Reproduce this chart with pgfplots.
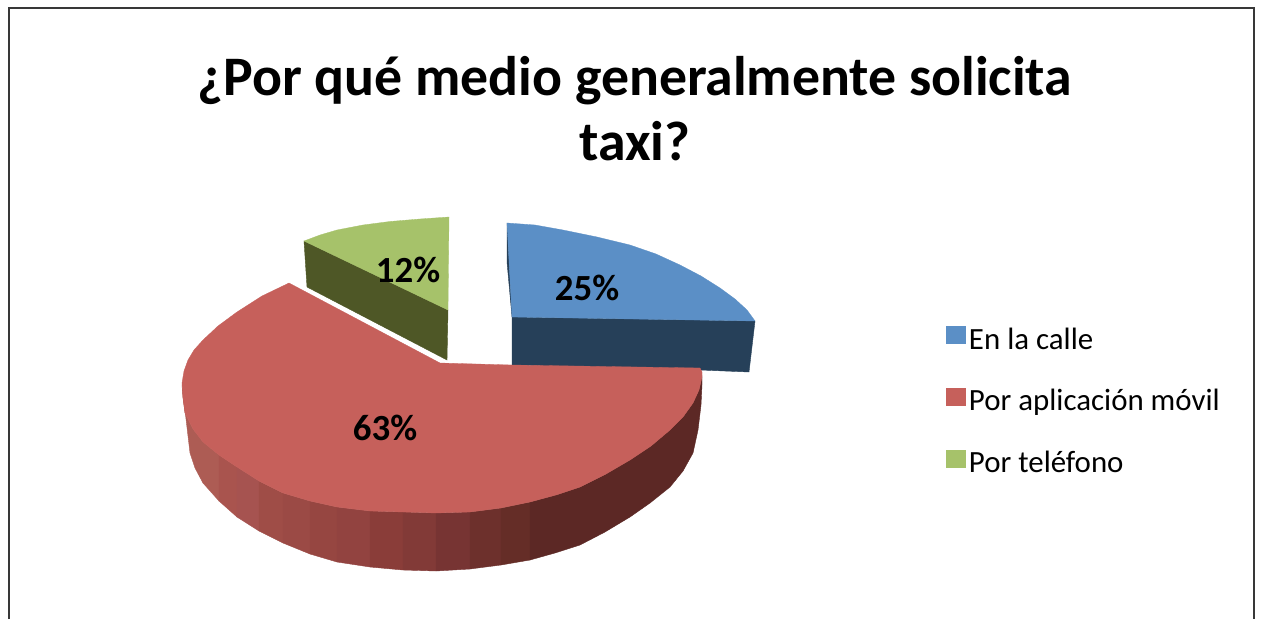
\documentclass[border=0pt]{standalone}
\usepackage{fontspec}
\setmainfont{Carlito}
\usepackage{pgfplots}
\pgfplotsset{compat=1.18}
\definecolor{cBlue}{HTML}{5B8FC6}
\definecolor{cBlueD}{HTML}{264059}
\definecolor{cRed}{HTML}{C6605B}
\definecolor{cGreen}{HTML}{A6C26A}
\definecolor{cGreenD}{HTML}{4E5726}
\definecolor{sa}{HTML}{AD5C54}
\definecolor{sb}{HTML}{A9544E}
\definecolor{sc}{HTML}{A65350}
\definecolor{sd}{HTML}{9F4D47}
\definecolor{se}{HTML}{9B4A45}
\definecolor{sf}{HTML}{964641}
\definecolor{sg}{HTML}{924340}
\definecolor{sh}{HTML}{8A3D39}
\definecolor{si}{HTML}{823A37}
\definecolor{sj}{HTML}{773433}
\definecolor{sk}{HTML}{6D302C}
\definecolor{sl}{HTML}{652D27}
\definecolor{sm}{HTML}{5C2825}
\newcommand{\strip}[2]{\addplot[fill=#1,draw=#1,line width=0.4pt,forget plot] coordinates {#2} --cycle;}
\begin{document}
\begin{tikzpicture}[x=1bp,y=1bp]
\begin{axis}[
  scale only axis, width=1264bp, height=619bp,
  xmin=0, xmax=1264, ymin=0, ymax=619, y dir=reverse,
  hide axis, clip=false,
  title={¿Por qué medio generalmente solicita\\taxi?},
  title style={at={(0.5024,0.905)},anchor=north,align=center,yshift=0pt,
    font=\bfseries\fontsize{56}{65}\selectfont},
  legend style={draw=none,fill=none,at={(0.748,0.476)},anchor=north west,
    font=\fontsize{31}{33}\selectfont,row sep=33bp,inner sep=0pt,
    /tikz/every even column/.append style={column sep=0bp},
    nodes={inner ysep=3bp,inner xsep=4bp}},
  legend cell align=left,
  legend image code/.code={\fill[#1] (0bp,-4.5bp) rectangle (19bp,12.5bp);},
]
\path[fill=white] (axis cs:0,0) rectangle (axis cs:1264,619);
% frame
\addplot[color=black!78,line width=1.4bp,forget plot] coordinates {(9,619) (9,8) (1254,8) (1254,619)};
% blue slice, sides
\strip{cBlueD}{(512,317) (755,321) (749,372) (700,370) (512,365)}
\strip{cBlueD}{(507,223) (507,262) (512,317)}
% blue slice, top
\addplot[fill=cBlue,draw=cBlue,line width=0.3pt] coordinates {(507,223) (535,225) (563,230) (597,237) (630,245) (656,254) (680,265) (701,276) (720,288) (735,299) (747,310) (755,321) (512,317)} --cycle;
\addlegendentry{En la calle}
% green slice, side
\strip{cGreenD}{(304,241) (448,310) (447,360) (307,287)}
% red slice, side strips
\strip{sa}{(182,385) (183,398) (185,413) (193,429) (203,442) (203,483) (195,468) (190,453)}
\strip{sa}{(203,442) (219,455) (219,501) (203,483)}
\strip{sb}{(219,455) (237,467) (237,517) (219,501)}
\strip{sc}{(237,467) (259,481) (259,531) (237,517)}
\strip{sd}{(259,481) (283,493) (283,543) (259,531)}
\strip{se}{(283,493) (310,501) (310,554) (283,543)}
\strip{sf}{(310,501) (337,507) (337,562) (310,554)}
\strip{sg}{(337,507) (370,511) (370,567) (337,562)}
\strip{sh}{(370,511) (403,512) (403,570) (370,567)}
\strip{si}{(403,512) (436,513) (436,571) (403,570)}
\strip{sj}{(436,513) (470,512) (470,569) (436,571)}
\strip{sk}{(470,512) (501,508) (501,565) (470,569)}
\strip{sl}{(501,508) (530,502) (530,560) (501,565)}
\strip{sm}{(530,502) (556,495) (580,487) (606,474) (630,460) (651,446) (670,430) (683,417) (693,403) (699,390) (702,377) (702,385) (701,405) (698,430) (693,453) (683,471) (670,487) (650,503) (630,517) (605,532) (580,545) (555,553) (530,560)}
% red slice, top
\addplot[fill=cRed,draw=cRed,line width=0.3pt] coordinates {(289,283) (262,296) (237,312) (218,326) (203,340) (194,350) (188,360) (184,371) (182,383) (183,398) (185,413) (193,429) (203,442) (219,455) (237,467) (259,481) (283,493) (310,501) (337,507) (370,511) (403,512) (436,513) (470,512) (501,508) (530,502) (556,495) (580,487) (606,474) (630,460) (651,446) (670,430) (683,417) (693,403) (699,390) (702,377) (702,372) (700,368) (512,365) (440,363)} --cycle;
\addlegendentry{Por aplicación móvil}
% green slice, top
\addplot[fill=cGreen,draw=cGreen,line width=0.3pt] coordinates {(304,241) (320,235) (337,230) (363,225) (390,221.5) (420,219) (449,217) (448,310)} --cycle;
\addlegendentry{Por teléfono}
\node[font=\bfseries\fontsize{37}{40}\selectfont] at (axis cs:587,288) {25\%};
\node[font=\bfseries\fontsize{37}{40}\selectfont] at (axis cs:385,428) {63\%};
\node[font=\bfseries\fontsize{37}{40}\selectfont] at (axis cs:408,270) {12\%};
\end{axis}
\end{tikzpicture}
\end{document}
